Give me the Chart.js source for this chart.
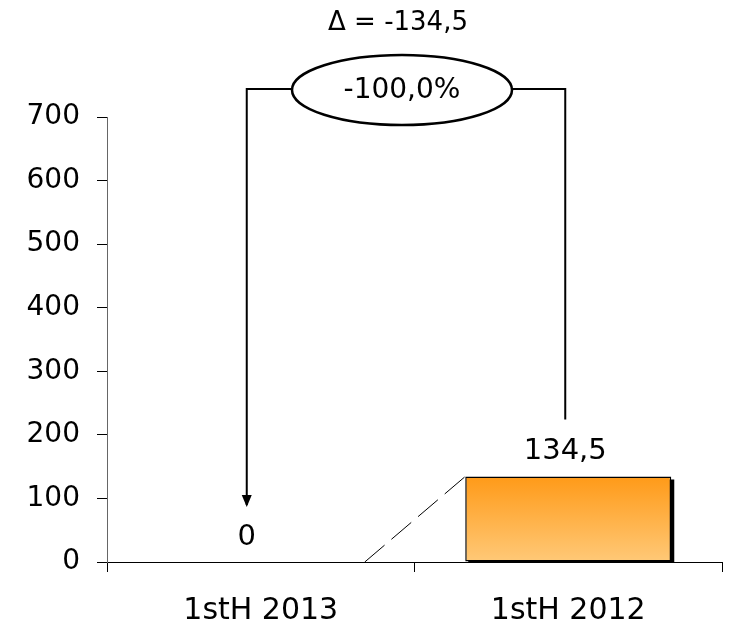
<!DOCTYPE html>
<html>
<head>
<meta charset="utf-8">
<script src="https://cdn.jsdelivr.net/npm/chart.js@4/dist/chart.umd.min.js"></script>
<style>
html,body{margin:0;padding:0;background:#fff;}
#wrap{width:731px;height:637px;}
</style>
</head>
<body>
<div id="wrap"><canvas id="c" width="731" height="637"></canvas></div>
<script>
const categories = ['1stH 2013', '1stH 2012'];
const values = [0, 134.5];
const valueLabels = ['0', '134,5'];
const deltaLabel = '\u0394 = -134,5';
const pctLabel = '-100,0%';
const yMin = 0, yMax = 700, yStep = 100;

const FONT = "'DejaVu Sans', Verdana, sans-serif";

const annot = {
  id: 'annot',
  beforeDatasetsDraw(chart) {
    const ctx = chart.ctx;
    const meta = chart.getDatasetMeta(0);
    const y = chart.scales.y;
    ctx.save();
    meta.data.forEach((b, i) => {
      if (values[i] <= 0) return;
      const w = b.width;
      ctx.fillStyle = '#000';
      ctx.fillRect(b.x - w / 2 + 3, b.y + 3, w, y.getPixelForValue(0) - b.y - 3);
    });
    ctx.restore();
  },
  afterDraw(chart) {
    const ctx = chart.ctx;
    const meta = chart.getDatasetMeta(0);
    const y = chart.scales.y;
    const ca = chart.chartArea;
    const b0 = meta.data[0], b1 = meta.data[1];
    const base = y.getPixelForValue(0);
    ctx.save();
    // value labels
    ctx.fillStyle = '#000';
    ctx.font = '29px ' + FONT;
    ctx.textAlign = 'center';
    ctx.textBaseline = 'middle';
    const leftX = b0.x - 14;
    ctx.fillText(valueLabels[0], leftX, b0.y - 25);
    ctx.fillText(valueLabels[1], b1.x - 3, b1.y - 25);

    // dashed connector
    ctx.strokeStyle = '#000';
    ctx.lineWidth = 1;
    ctx.setLineDash([26, 9]);
    ctx.beginPath();
    ctx.moveTo(b0.x + b1.width / 2 + 1, base);
    ctx.lineTo(b1.x - b1.width / 2, b1.y);
    ctx.stroke();
    ctx.setLineDash([]);

    // bracket
    const topY = ca.top - 28;
    const rightX = b1.x - 3;
    const midX = (leftX + rightX) / 2 - 4;
    const rx = 110, ry = 35;
    ctx.lineWidth = 2;
    ctx.beginPath();
    ctx.moveTo(leftX, base - 57);
    ctx.lineTo(leftX, topY);
    ctx.lineTo(midX - rx, topY);
    ctx.moveTo(midX + rx, topY);
    ctx.lineTo(rightX, topY);
    ctx.lineTo(rightX, b1.y - 57);
    ctx.stroke();
    // arrow head
    ctx.beginPath();
    ctx.moveTo(leftX - 5, base - 67);
    ctx.lineTo(leftX + 5, base - 67);
    ctx.lineTo(leftX, base - 55);
    ctx.closePath();
    ctx.fill();
    // ellipse
    ctx.beginPath();
    ctx.ellipse(midX, topY + 1, rx, ry, 0, 0, Math.PI * 2);
    ctx.fillStyle = '#fff';
    ctx.fill();
    ctx.lineWidth = 2.5;
    ctx.stroke();
    ctx.fillStyle = '#000';
    ctx.font = '28px ' + FONT;
    ctx.fillText(pctLabel, midX, topY + 2);
    ctx.font = '26px ' + FONT;
    ctx.fillText(deltaLabel, midX - 4, 23);
    ctx.restore();
  }
};

new Chart(document.getElementById('c'), {
  type: 'bar',
  data: {
    labels: categories,
    datasets: [{
      data: values,
      backgroundColor(ctx) {
        const c = ctx.chart;
        const ca = c.chartArea;
        if (!ca) return '#FFA533';
        const yScale = c.scales.y;
        const top = yScale.getPixelForValue(values[1]);
        const bot = yScale.getPixelForValue(0);
        const g = c.ctx.createLinearGradient(0, top, 0, bot);
        g.addColorStop(0, '#FF9A18');
        g.addColorStop(1, '#FFC978');
        return g;
      },
      borderColor: '#000',
      borderWidth: 1.5,
      borderSkipped: false,
      barPercentage: 0.67,
      categoryPercentage: 1
    }]
  },
  options: {
    responsive: false,
    animation: false,
    devicePixelRatio: 1,
    layout: { padding: { left: 0, right: 9, top: 117, bottom: 0 } },
    plugins: { legend: { display: false }, tooltip: { enabled: false } },
    scales: {
      x: {
        grid: { display: true, drawOnChartArea: false, drawTicks: true, tickLength: 10, color: '#000', offset: true },
        border: { display: true, color: '#000', width: 1 },
        ticks: { color: '#000', font: { family: FONT, size: 30 }, padding: 21 },
        afterFit(s) { s.height = 75; }
      },
      y: {
        min: yMin, max: yMax,
        grid: { display: true, drawOnChartArea: false, drawTicks: true, tickLength: 10, color: '#000' },
        border: { display: true, color: '#666', width: 1 },
        ticks: { stepSize: yStep, color: '#000', font: { family: FONT, size: 28 }, padding: 17 },
        afterFit(s) { s.width = 107; }
      }
    }
  },
  plugins: [annot]
});
</script>
</body>
</html>
